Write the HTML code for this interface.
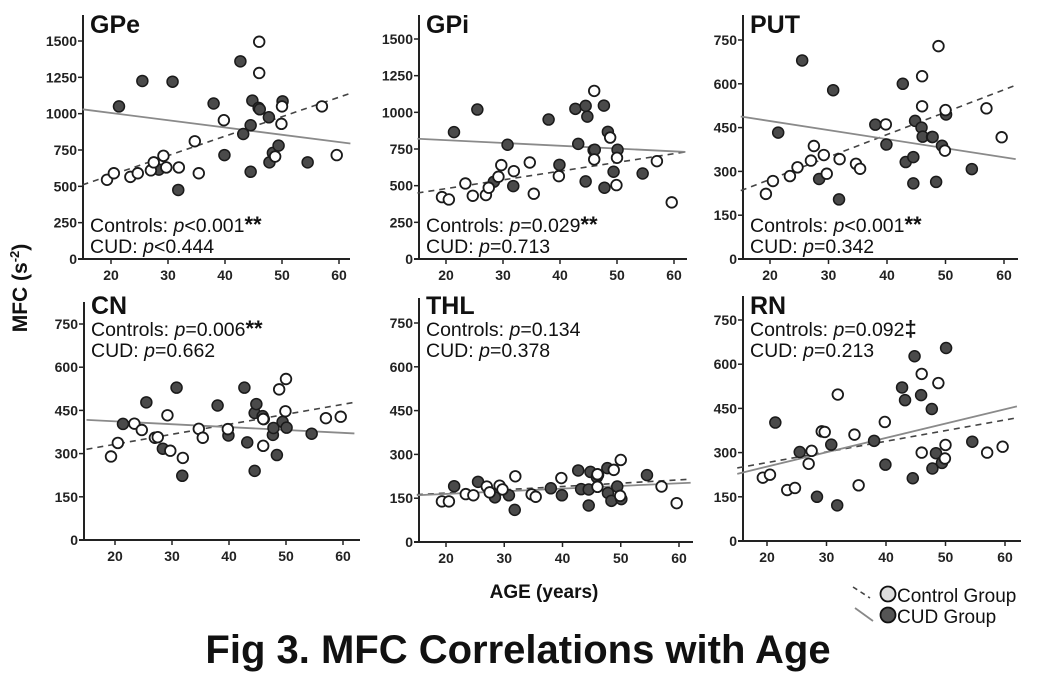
<!DOCTYPE html>
<html><head><meta charset="utf-8"><style>
html,body{margin:0;padding:0;background:#fff}
svg{display:block;font-family:"Liberation Sans",Arial,sans-serif}
</style></head><body>
<svg id="fig" width="1050" height="673" viewBox="0 0 1050 673">
<text x="27" y="288" transform="rotate(-90 27 288)" text-anchor="middle" font-weight="bold" font-size="21" fill="#111">MFC (s<tspan font-size="13" dy="-8">-2</tspan><tspan dy="8">)</tspan></text>
<text x="544" y="598" text-anchor="middle" font-weight="bold" font-size="19" fill="#111">AGE (years)</text>
<text x="518" y="663" text-anchor="middle" font-weight="bold" font-size="40" fill="#111">Fig 3. MFC Correlations with Age</text>
<g>
<line x1="853" y1="587" x2="870" y2="598" stroke="#444" stroke-width="1.6" stroke-dasharray="5,4"/>
<circle cx="888" cy="594" r="7.5" fill="#ddd" stroke="#111" stroke-width="1.8"/>
<text x="897" y="602" font-size="19" fill="#111">Control Group</text>
<line x1="855" y1="608" x2="873" y2="621" stroke="#888" stroke-width="1.8"/>
<circle cx="888" cy="615" r="7.5" fill="#555" stroke="#111" stroke-width="1.8"/>
<text x="897" y="623" font-size="19" fill="#111">CUD Group</text>
</g>
</svg>
<script>
const ctrlAges = [19.3,20.5,23.4,24.7,27,27.5,29.2,29.7,31.9,34.7,35.4,39.8,46,46,48.8,49.9,50,57,59.6];
const cudAges = [21.4,25.5,28.4,30.8,31.8,38,39.9,42.7,43.2,44.5,44.5,44.8,45.9,46.1,47.7,47.8,48.4,49.4,50.1,54.5];
const rnCudAges = [21.4,25.5,28.4,30.8,31.8,38,39.9,42.7,43.2,44.5,44.8,45.9,47.7,47.8,48.4,49.4,50.1,54.5];

const gpeCtrl = [545,590,565,590,610,665,710,630,630,810,590,955,1495,1280,705,930,1050,1050,715];
const gpeCud = [1050,1225,615,1220,475,1070,715,1360,860,600,920,1090,1040,1030,975,665,730,780,1085,665];
const gpiCtrl = [422,406,515,431,436,486,561,640,599,658,445,565,1146,679,828,504,690,667,386];
const gpiCud = [865,1019,527,779,497,951,642,1024,785,1044,529,971,742,745,1046,486,867,595,745,583];
const putCtrl = [223,267,284,314,337,387,356,292,342,326,309,461,626,523,729,371,510,516,417];
const putCud = [433,680,274,578,204,460,392,600,332,349,259,473,450,419,418,418,264,388,495,308];
const cnCtrl = [290,337,404,382,355,357,433,310,285,386,355,385,327,420,523,447,559,423,428];
const cnCud = [403,478,317,529,223,467,363,529,339,240,441,472,430,420,365,389,295,410,390,369];
const thlCtrl = [139,139,164,160,190,170,193,180,225,163,155,219,232,189,247,158,281,190,133];
const thlCud = [191,206,153,160,110,184,160,245,181,125,180,240,222,230,253,168,141,190,147,229];
const rnCtrl = [215,225,173,180,262,306,372,370,497,361,189,404,567,300,536,280,326,300,320];
const rnCud = [402,302,150,327,121,340,259,521,478,213,627,495,448,246,298,265,655,337];

const lineAges = [15,62];
const gpeFit = {ctrl:[510,1140], cud:[1030,795]};
const gpiFit = {ctrl:[450,730], cud:[820,730]};
const putFit = {ctrl:[234,595], cud:[488,342]};
const cnFit = {ctrl:[315,478], cud:[417,370]};
const thlFit = {ctrl:[162,215], cud:[160,203]};
const rnFit = {ctrl:[248,418], cud:[228,457]};

const xTicks = [20,30,40,50,60];
const bigTicks = [0,250,500,750,1000,1250,1500];
const smallTicks = [0,150,300,450,600,750];

const panels = [
 {id:'gpe',title:'GPe',ax:83,x20:111,x60:339,right:350,base:259,top:15,topVal:1500,topY:41,ticks:bigTicks,ctrl:gpeCtrl,cud:gpeCud,cudA:cudAges,fit:gpeFit,s1:'<0.001',st1:'**',s2:'<0.444',sy:232},
 {id:'gpi',title:'GPi',ax:419,x20:446,x60:674,right:687,base:259,top:15,topVal:1500,topY:39,ticks:bigTicks,ctrl:gpiCtrl,cud:gpiCud,cudA:cudAges,fit:gpiFit,s1:'=0.029',st1:'**',s2:'=0.713',sy:232},
 {id:'put',title:'PUT',ax:743,x20:770,x60:1004,right:1018,base:259,top:15,topVal:750,topY:40,ticks:smallTicks,ctrl:putCtrl,cud:putCud,cudA:cudAges,fit:putFit,s1:'<0.001',st1:'**',s2:'=0.342',sy:232},
 {id:'cn',title:'CN',ax:84,x20:115,x60:343,right:360,base:540,top:302,topVal:750,topY:324,ticks:smallTicks,ctrl:cnCtrl,cud:cnCud,cudA:cudAges,fit:cnFit,s1:'=0.006',st1:'**',s2:'=0.662',sy:336},
 {id:'thl',title:'THL',ax:419,x20:446,x60:679,right:693,base:542,top:298,topVal:750,topY:323,ticks:smallTicks,ctrl:thlCtrl,cud:thlCud,cudA:cudAges,fit:thlFit,s1:'=0.134',st1:'',s2:'=0.378',sy:336},
 {id:'rn',title:'RN',ax:743,x20:767,x60:1005,right:1021,base:541,top:296,topVal:750,topY:320,ticks:smallTicks,ctrl:rnCtrl,cud:rnCud,cudA:rnCudAges,fit:rnFit,s1:'=0.092',st1:'\u2021',s2:'=0.213',sy:336}
];
const NS='http://www.w3.org/2000/svg';
const svg=document.getElementById('fig');
function mk(tag,attrs,parent){const e=document.createElementNS(NS,tag);for(const k in attrs)e.setAttribute(k,attrs[k]);parent.appendChild(e);return e;}
panels.forEach(p=>{
  const g=mk('g',{},svg);
  
  
  const xs=a=>p.x20+(a-20)*(p.x60-p.x20)/40;
  const ys=v=>p.base-v*(p.base-p.topY)/p.topVal;
  const ya=mk('line',{x1:p.ax,y1:p.top,x2:p.ax,y2:p.base,stroke:'#222','stroke-width':2},g);
  
  
  const xa=mk('line',{x1:p.ax-5,y1:p.base,x2:p.right,y2:p.base,stroke:'#222','stroke-width':2},g);
  
  
  p.ticks.forEach(t=>{
    const y=ys(t);
    mk('line',{x1:p.ax-5,y1:y,x2:p.ax,y2:y,stroke:'#222','stroke-width':1.5},g);
    const tx=mk('text',{x:p.ax-6,y:y+5,'text-anchor':'end','font-size':14,'font-weight':'bold',fill:'#222'},g);
    tx.textContent=t;
    
    
  });
  xTicks.forEach(t=>{
    const x=xs(t);
    mk('line',{x1:x,y1:p.base,x2:x,y2:p.base+5,stroke:'#222','stroke-width':1.5},g);
    const tx=mk('text',{x:x,y:p.base+21,'text-anchor':'middle','font-size':14,'font-weight':'bold',fill:'#222'},g);
    tx.textContent=t;
    
    
  });
  const cl=mk('line',{x1:xs(lineAges[0]),y1:ys(p.fit.ctrl[0]),x2:xs(lineAges[1]),y2:ys(p.fit.ctrl[1]),stroke:'#444','stroke-width':1.6,'stroke-dasharray':'6,5'},g);
  
  
  const ul=mk('line',{x1:xs(lineAges[0]),y1:ys(p.fit.cud[0]),x2:xs(lineAges[1]),y2:ys(p.fit.cud[1]),stroke:'#8a8a8a','stroke-width':1.8},g);
  
  
  p.cud.forEach((v,i)=>{
    const c=mk('circle',{cx:xs(p.cudA[i]),cy:ys(v),r:5.5,fill:'#4a4a4a',stroke:'#1a1a1a','stroke-width':1.5},g);
    
    
  });
  p.ctrl.forEach((v,i)=>{
    const c=mk('circle',{cx:xs(ctrlAges[i]),cy:ys(v),r:5.3,fill:'#fff',stroke:'#1a1a1a','stroke-width':1.8},g);
    
    
  });
  const ty=p.base<300?33:314;
  const tt=mk('text',{x:p.ax+7,y:ty,'font-size':25,'font-weight':'bold',fill:'#111'},g);
  tt.textContent=p.title;
  
  
  const s1=mk('text',{x:p.ax+7,y:p.sy,'font-size':19.5,fill:'#111'},g);
  s1.innerHTML='Controls: <tspan font-style="italic">p</tspan>'+p.s1+'<tspan font-weight="bold" font-size="22">'+p.st1+'</tspan>';
  
  
  const s2=mk('text',{x:p.ax+7,y:p.sy+21,'font-size':19.5,fill:'#111'},g);
  s2.innerHTML='CUD: <tspan font-style="italic">p</tspan>'+p.s2;
  
  
});
</script>
</body></html>
